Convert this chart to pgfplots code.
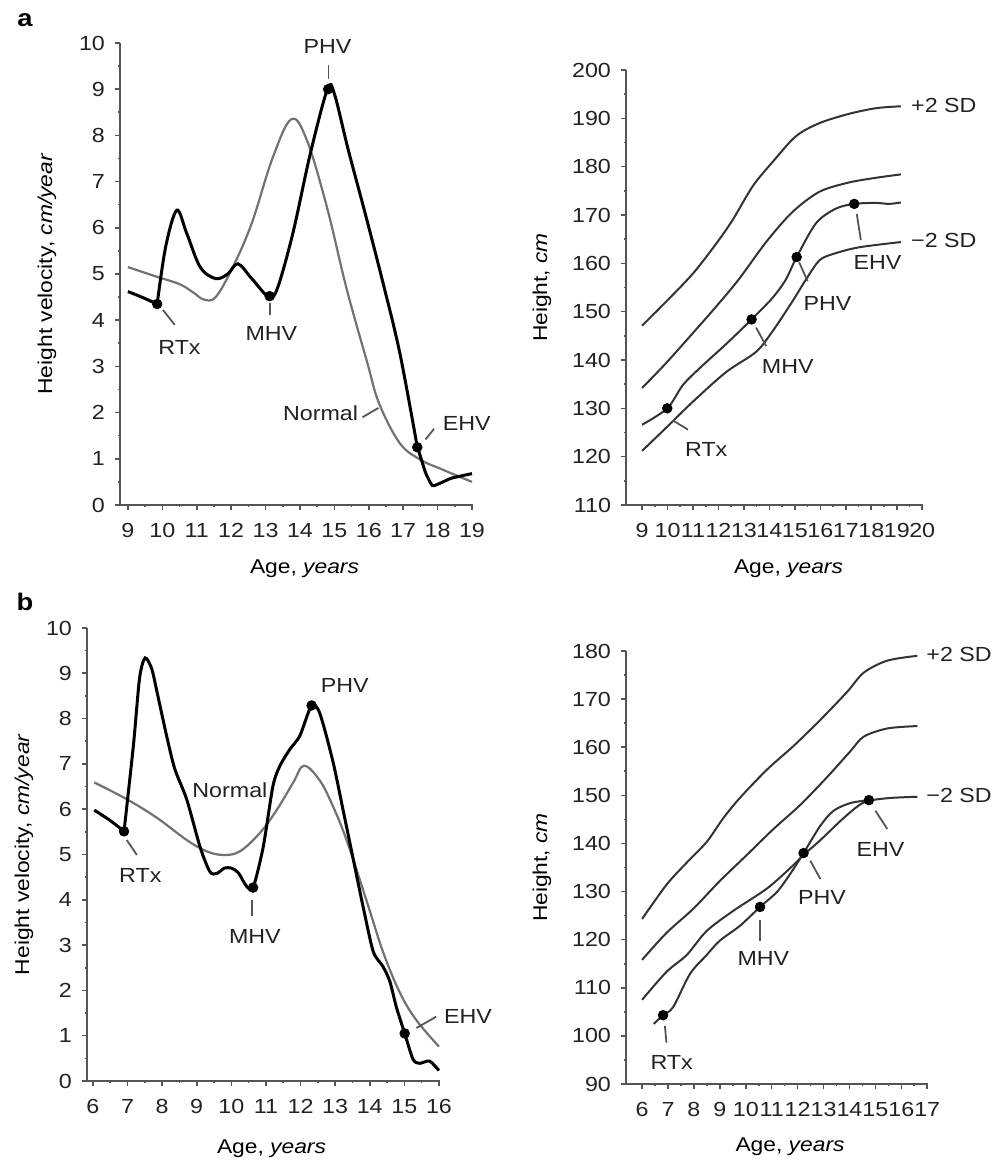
\documentclass[border=0pt]{standalone}
\usepackage{pgfplots}
\pgfplotsset{compat=1.18}
\usepackage{fontspec}
\setmainfont{Liberation Sans}[FakeStretch=1.14]
\definecolor{txt}{HTML}{222222}
\definecolor{axc}{HTML}{555555}
\definecolor{normc}{HTML}{727272}
\definecolor{chartc}{HTML}{333333}
\definecolor{ptr}{HTML}{555555}
\newcommand{\fs}{\fontsize{10.2pt}{12pt}\selectfont}
\newcommand{\ft}{\fontsize{10.2pt}{12pt}\selectfont}
\tikzset{
  ptrs/.style={ptr, line width=0.9pt},
  ann/.style={font=\fs, text=txt},
}
\pgfplotsset{
  myaxis/.style={
    scale only axis, axis lines=left,
    axis line style={-, draw=axc, line width=0.9pt},
    tick align=outside, major tick length=2.5pt, minor tick length=1.2pt,
    minor tick num=1, tick style={draw=axc, line width=0.8pt},
    clip=false,
    tick label style={font=\ft, text=txt},
    /pgf/number format/assume math mode=true,
    xticklabel style={yshift=-3pt},
    yticklabel style={xshift=-1.5pt},
    label style={font=\fs, text=txt},
  },
  patient/.style={black, line width=1.5pt, smooth, tension=0.55},
  normal/.style={normc, line width=1.1pt, smooth, tension=0.6},
  chart/.style={chartc, line width=1.0pt, smooth, tension=0.5},
  dots/.style={only marks, mark=*, mark size=2.4pt, black},
}
\begin{document}
\begin{tikzpicture}
\useasboundingbox (0,0) rectangle (502.5pt,581.5pt);
\node[font=\fontsize{12pt}{14pt}\selectfont\bfseries, text=black] at (12.5pt,571.5pt) {a};
\node[font=\fontsize{12pt}{14pt}\selectfont\bfseries, text=black] at (12.5pt,280.5pt) {b};

% ---------------- a left ----------------
\begin{axis}[myaxis, at={(60pt,329pt)}, anchor=origin,
  width=176.5pt, height=231pt,
  xmin=8.77, xmax=19.03, ymin=0, ymax=10,
  xtick={9,...,19}, ytick={0,...,10},
  xlabel={Age, \textit{years}}, ylabel={Height velocity, \textit{cm/year}},
  every axis x label/.style={at={(rel axis cs:0.5,0)}, xshift=4pt, yshift=-32pt, anchor=center},
  every axis y label/.style={at={(rel axis cs:0,0.5)}, xshift=-36.5pt, rotate=90, anchor=center}]
\addplot[normal] coordinates {(9,5.15) (9.8,4.95) (10.5,4.78) (10.9,4.6) (11.2,4.45) (11.55,4.5) (12.05,5.15) (12.6,6.1) (13.2,7.5) (13.75,8.35) (14.2,7.9) (14.78,6.46) (15.35,4.7) (15.95,3.1) (16.3,2.2) (16.9,1.34) (17.5,0.98) (18.1,0.78) (19,0.5)};
\addplot[patient] coordinates {(9,4.62) (9.4,4.5) (9.85,4.35)};
\addplot[patient] coordinates {(9.85,4.35) (10.1,5.6) (10.42,6.38) (10.7,5.9) (11.1,5.15) (11.55,4.9) (11.9,5.0) (12.2,5.22) (12.6,4.9) (13.1,4.5) (13.35,4.7) (13.8,5.9) (14.3,7.6) (14.8,9.0) (15.0,8.9) (15.4,7.7) (15.9,6.3) (16.4,4.85) (16.9,3.3) (17.4,1.3)};
\addplot[patient, tension=0.3] coordinates {(17.4,1.3) (17.65,0.7) (17.85,0.42) (18.1,0.48) (18.4,0.58) (19.0,0.68)};
\addplot[dots] coordinates {(9.85,4.35) (13.12,4.52) (14.82,9.0) (17.41,1.25)};
\draw[ptrs] (axis cs:10.02,4.22) -- (axis cs:10.36,3.9);
\node[ann] at (axis cs:10.5,3.42) {RTx};
\draw[ptrs] (axis cs:13.12,4.38) -- (axis cs:13.12,4.12);
\node[ann] at (axis cs:13.17,3.72) {MHV};
\draw[ptrs] (axis cs:14.83,9.52) -- (axis cs:14.83,9.22);
\node[ann] at (axis cs:14.8,9.92) {PHV};
\draw[ptrs] (axis cs:15.82,1.9) -- (axis cs:16.28,2.1);
\node[ann] at (axis cs:14.6,1.98) {Normal};
\draw[ptrs] (axis cs:17.65,1.42) -- (axis cs:17.9,1.65);
\node[ann] at (axis cs:18.85,1.76) {EHV};
\end{axis}

% ---------------- a right ----------------
\begin{axis}[myaxis, at={(313pt,329pt)}, anchor=origin,
  width=148.5pt, height=217.5pt,
  xmin=8.37, xmax=20.03, ymin=110, ymax=200,
  xtick={9,...,20}, ytick={110,120,...,200},
  xlabel={Age, \textit{years}}, ylabel={Height, \textit{cm}},
  every axis x label/.style={at={(rel axis cs:0.5,0)}, xshift=7pt, yshift=-32pt, anchor=center},
  every axis y label/.style={at={(rel axis cs:0,0.5)}, xshift=-42pt, rotate=90, anchor=center}]
\addplot[chart] coordinates {(9,147.1) (9.95,152.1) (11.0,157.9) (11.9,164) (12.56,169) (13.35,176) (14.13,181) (15.04,186.3) (15.96,189) (17.1,190.9) (18.18,192.1) (19.16,192.5)};
\addplot[chart] coordinates {(9,134.2) (9.95,139.4) (11.0,145.6) (11.9,151) (12.8,156.7) (13.87,164.4) (14.9,170.6) (15.96,174.8) (17.1,176.7) (18.18,177.7) (19.16,178.4)};
\addplot[chart] coordinates {(9,126.6) (9.99,130.0) (10.6,134.8) (11.26,138.3) (12.3,143.3) (13.3,148.4) (14.13,152.9) (14.65,156.7) (15.07,161.3) (15.83,168.3) (16.6,171.3) (17.33,172.3) (18.18,172.5) (18.7,172.3) (19.16,172.6)};
\addplot[chart] coordinates {(9,121.2) (9.95,126) (11.0,131.4) (12.3,137.5) (13.48,141.7) (14.13,146) (14.9,152.1) (15.44,156.7) (15.96,160.6) (16.48,161.9) (17.5,163.3) (19.16,164.4)};
\addplot[dots] coordinates {(9.99,130.0) (13.3,148.4) (15.07,161.3) (17.33,172.3)};
\draw[ptrs] (axis cs:10.21,127.5) -- (axis cs:10.8,125.6);
\node[ann] at (axis cs:11.52,121.4) {RTx};
\draw[ptrs] (axis cs:13.48,146.7) -- (axis cs:13.87,142.9);
\node[ann] at (axis cs:14.72,138.7) {MHV};
\draw[ptrs] (axis cs:15.17,160.2) -- (axis cs:15.5,156.3);
\node[ann] at (axis cs:16.28,151.7) {PHV};
\draw[ptrs] (axis cs:17.43,170.2) -- (axis cs:17.59,164.8);
\node[ann] at (axis cs:18.24,160.2) {EHV};
\node[ann] at (axis cs:20.85,192.6) {+2 SD};
\node[ann] at (axis cs:20.85,164.8) {\char"2212 2 SD};
\end{axis}

% ---------------- b left ----------------
\begin{axis}[myaxis, at={(43.5pt,41pt)}, anchor=origin,
  width=176.5pt, height=226.5pt,
  xmin=5.83, xmax=16.03, ymin=0, ymax=10,
  xtick={6,...,16}, ytick={0,...,10},
  xlabel={Age, \textit{years}}, ylabel={Height velocity, \textit{cm/year}},
  every axis x label/.style={at={(rel axis cs:0.5,0)}, xshift=4pt, yshift=-34pt, anchor=center},
  every axis y label/.style={at={(rel axis cs:0,0.5)}, xshift=-31.5pt, rotate=90, anchor=center}]
\addplot[normal] coordinates {(6.04,6.59) (6.98,6.22) (7.85,5.81) (8.71,5.32) (9.29,5.07) (9.77,4.99) (10.25,5.07) (10.83,5.48) (11.31,5.98) (11.79,6.59) (12.1,6.96) (12.56,6.63) (12.94,6.06) (13.33,5.32) (13.9,4.0) (14.38,2.86) (14.87,1.95) (15.35,1.34) (16,0.76)};
\addplot[patient] coordinates {(6.04,5.98) (6.5,5.75) (6.9,5.51)};
\addplot[patient, tension=0.45] coordinates {(6.9,5.51) (7.17,7.4) (7.35,8.9) (7.51,9.34) (7.7,9.1) (7.85,8.6) (8.13,7.62) (8.37,6.88) (8.71,6.22) (9.1,5.16) (9.38,4.62) (9.58,4.58) (9.8,4.7) (10.0,4.7) (10.2,4.6) (10.44,4.3) (10.63,4.27) (10.92,5.16) (11.2,6.5) (11.4,6.95) (11.69,7.32) (11.98,7.62) (12.32,8.29) (12.56,8.11) (12.94,7.04) (13.23,5.98) (13.52,4.91) (13.81,3.84) (14.1,2.86) (14.38,2.53) (14.58,2.2) (14.77,1.63) (15.01,1.05) (15.25,0.48) (15.44,0.39) (15.73,0.44) (16.0,0.23)};
\addplot[dots] coordinates {(6.9,5.51) (10.63,4.27) (12.32,8.29) (15.01,1.05)};
\draw[ptrs] (axis cs:6.98,5.32) -- (axis cs:7.27,4.99);
\node[ann] at (axis cs:7.37,4.54) {RTx};
\draw[ptrs] (axis cs:10.6,4.0) -- (axis cs:10.6,3.64);
\node[ann] at (axis cs:10.68,3.19) {MHV};
\node[ann] at (axis cs:13.28,8.73) {PHV};
\node[ann] at (axis cs:9.96,6.43) {Normal};
\draw[ptrs] (axis cs:15.35,1.17) -- (axis cs:15.92,1.42);
\node[ann] at (axis cs:16.84,1.42) {EHV};
\end{axis}

% ---------------- b right ----------------
\begin{axis}[myaxis, at={(313pt,39.5pt)}, anchor=origin,
  width=151pt, height=216.5pt,
  xmin=5.38, xmax=17.03, ymin=90, ymax=180,
  xtick={6,...,17}, ytick={90,100,...,180},
  xlabel={Age, \textit{years}}, ylabel={Height, \textit{cm}},
  every axis x label/.style={at={(rel axis cs:0.5,0)}, xshift=6.5pt, yshift=-31.5pt, anchor=center},
  every axis y label/.style={at={(rel axis cs:0,0.5)}, xshift=-42pt, rotate=90, anchor=center}]
\addplot[chart] coordinates {(6,124.3) (6.94,131.4) (7.72,136) (8.49,140.3) (9.14,145.3) (9.78,149.5) (10.81,155.3) (11.85,160.3) (12.88,165.7) (13.91,171.5) (14.55,175.5) (15.46,178) (16.62,179)};
\addplot[chart] coordinates {(6,115.8) (6.94,121.4) (7.97,126.4) (9.0,132.2) (10.04,137.6) (11.07,143) (12.1,148) (13.14,153.8) (14.04,159.2) (14.55,162.2) (15.46,163.9) (16.62,164.4)};
\addplot[chart] coordinates {(6,107.5) (6.94,113.3) (7.72,116.8) (8.49,121.8) (9.52,126) (10.81,130.6) (11.72,134.9) (12.23,137.6) (12.88,140.7) (13.78,145.3) (14.55,148.5) (15.46,149.4) (16.62,149.7)};
\addplot[chart] coordinates {(6.45,102.5) (6.81,104.3) (7.2,106) (7.85,112.9) (8.49,116.8) (9.0,119.8) (9.78,122.9) (10.55,126.8) (11.2,129.9) (11.72,133.7) (12.23,138) (12.88,143.7) (13.39,146.8) (14.04,148.4) (14.75,149)};
\addplot[dots] coordinates {(6.81,104.3) (10.55,126.8) (12.23,138) (14.75,149)};
\draw[ptrs] (axis cs:6.88,102.1) -- (axis cs:6.94,98.6);
\node[ann] at (axis cs:7.14,94.4) {RTx};
\draw[ptrs] (axis cs:10.55,124.1) -- (axis cs:10.55,119.8);
\node[ann] at (axis cs:10.68,116) {MHV};
\draw[ptrs] (axis cs:12.49,136.4) -- (axis cs:12.88,132.6);
\node[ann] at (axis cs:12.94,128.7) {PHV};
\draw[ptrs] (axis cs:15.0,146.8) -- (axis cs:15.46,143);
\node[ann] at (axis cs:15.2,138.7) {EHV};
\node[ann] at (axis cs:18.23,179.2) {+2 SD};
\node[ann] at (axis cs:18.23,149.9) {\char"2212 2 SD};
\end{axis}
\end{tikzpicture}
\end{document}
